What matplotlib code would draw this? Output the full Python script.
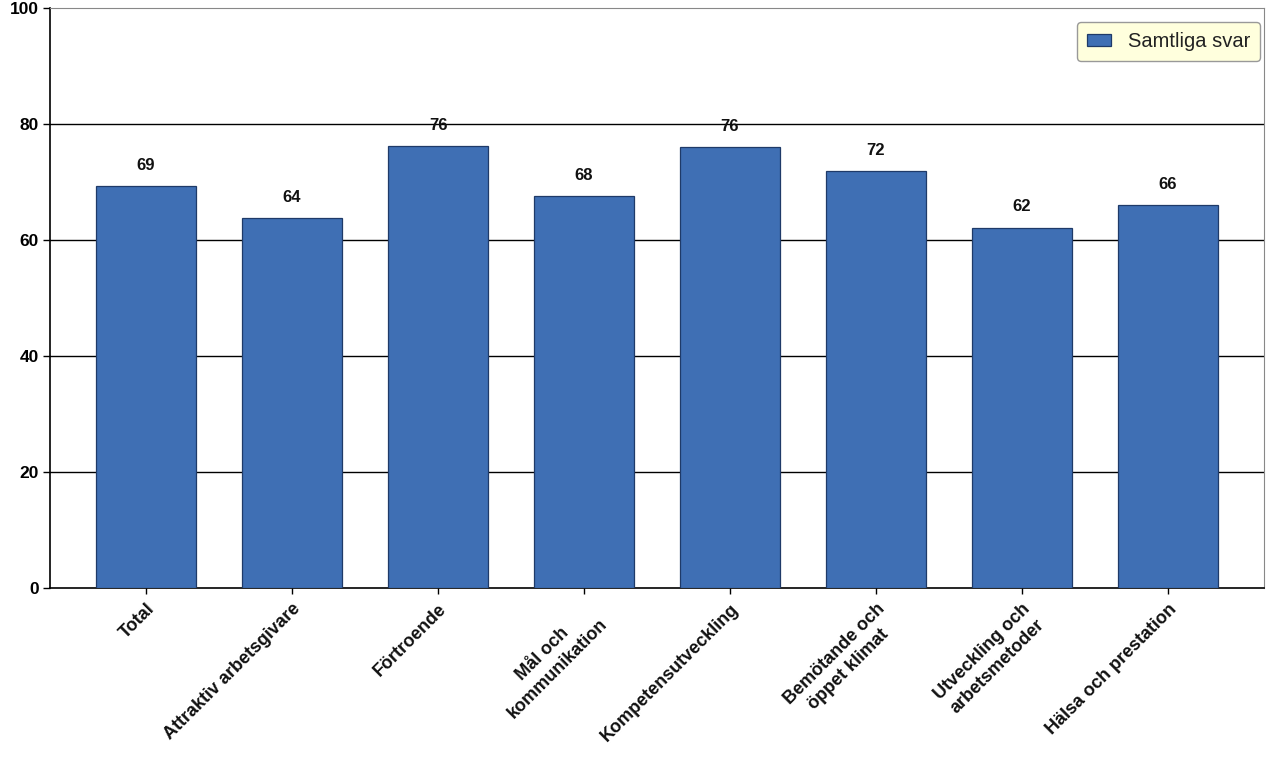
import matplotlib
matplotlib.use("Agg")
import matplotlib.pyplot as plt

categories = ["Total", "Attraktiv arbetsgivare", "Förtroende", "Mål och\nkommunikation",
              "Kompetensutveckling", "Bemötande och\nöppet klimat", "Utveckling och\narbetsmetoder",
              "Hälsa och prestation"]
values = [69.3, 63.8, 76.2, 67.5, 76.0, 71.9, 62.1, 66.0]
series_name = "Samtliga svar"
yticks = [0, 20, 40, 60, 80, 100]

plt.rcParams['font.family'] = ['Liberation Sans', 'DejaVu Sans']

fig = plt.figure(figsize=(12.8, 7.6), dpi=100)
ax = fig.add_axes([50/1280, 1-588/760, (1264-50)/1280, (588-8)/760])

x = list(range(len(categories)))
bars = ax.bar(x, values, width=0.685, color="#3F6FB4", edgecolor="#1F3A68", linewidth=0.9,
              label=series_name, zorder=3)
for xi, v in zip(x, values):
    ax.text(xi, v + 2.3, f"{v:.0f}", ha="center", va="bottom", fontsize=12,
            fontweight="bold", color="#111111")

ax.set_xlim(-0.658, 7.658)
ax.set_ylim(0, 100)
ax.set_yticks(yticks)
ax.set_yticklabels([str(t) for t in yticks], fontsize=12.5, fontweight="bold")
for t in yticks[1:-1]:
    ax.axhline(t, color="black", linewidth=1.0, zorder=1)
ax.set_xticks(x)
ax.set_xticklabels(categories, rotation=45, ha="right", rotation_mode="anchor",
                   fontsize=13, fontweight="bold", multialignment="center", color="#111111",
                   linespacing=1.3)
ax.tick_params(axis="x", length=4, width=1, pad=5)
ax.tick_params(axis="y", length=5, width=1, pad=3)

ax.spines["left"].set_color("black")
ax.spines["left"].set_linewidth(1.2)
ax.spines["bottom"].set_color("black")
ax.spines["bottom"].set_linewidth(1.2)
ax.spines["top"].set_color("#888888")
ax.spines["right"].set_color("#888888")

leg = ax.legend(loc="upper right", bbox_to_anchor=(0.9967, 0.976), borderaxespad=0,
                fontsize=14.5, frameon=True, fancybox=True, facecolor="#FFFFDD",
                edgecolor="#999999", handlelength=1.2, handleheight=0.5, borderpad=0.5,
                framealpha=1, labelcolor="#222222")
leg.get_frame().set_linewidth(1.0)

fig.savefig("out.png", dpi=100)
